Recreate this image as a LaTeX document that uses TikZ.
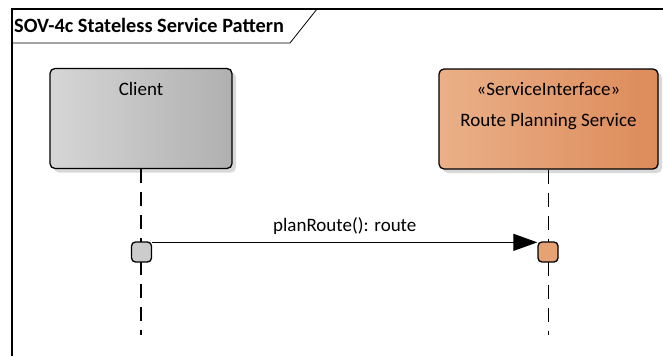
\documentclass[tikz,border=0pt]{standalone}
\usepackage{fontspec}
\setmainfont{Carlito}
\usetikzlibrary{arrows.meta,shadows}

\definecolor{clientL}{RGB}{214,214,214}
\definecolor{clientR}{RGB}{176,176,176}
\definecolor{serviceL}{RGB}{234,176,136}
\definecolor{serviceR}{RGB}{221,139,90}
\definecolor{actgray}{RGB}{204,204,204}
\definecolor{actorange}{RGB}{230,162,114}

\tikzset{
    lifebox/.style={draw, line width=1.3pt, rounded corners=5pt, minimum height=100pt,
        drop shadow={shadow xshift=4pt, shadow yshift=-4pt, fill=black!15, opacity=1}},
    act/.style={draw, line width=1.3pt, rounded corners=4pt, minimum width=20pt, minimum height=20pt, inner sep=0pt},
    lifeline/.style={line width=1.3pt, dash pattern=on 14pt off 9pt},
    msg/.style={line width=1.2pt, -{Triangle[length=24pt,width=17pt]}},
    txt/.style={font=\fontsize{19}{22}\selectfont, inner sep=0pt}
}

\begin{document}
\begin{tikzpicture}[x=1pt,y=-1pt]
        \useasboundingbox (0,0) rectangle (663,356);

        % frame and title tab
        \draw[line width=1.6pt] (12,356) -- (12,9) -- (663,9);
        \draw[line width=0.8pt] (12,43) -- (290,43) -- (317,9);
        \node[txt, font=\fontsize{20.3}{24}\selectfont\bfseries, anchor=west] (title) at (14,25) {SOV-4c Stateless Service Pattern};

        % lifeline heads
        \node[lifebox, minimum width=182pt, left color=clientL, right color=clientR] (client) at (141,118.5) {};
        \node[txt] (clientname) at (141,89) {Client};
        \node[lifebox, minimum width=219pt, left color=serviceL, right color=serviceR] (service) at (548.5,119) {};
        \node[txt] (servicestereo) at (548.5,89) {«ServiceInterface»};
        \node[txt] (servicename) at (548.5,122) {Route Planning Service};

        % lifelines
        \coordinate (clientend) at (141,335);
        \coordinate (serviceend) at (548.5,335);
        \draw[lifeline] (client.south) -- (clientend);
        \draw[lifeline] (service.south) -- (serviceend);

        % activations and message
        \node[act, fill=actgray] (clientact) at (141.5,252) {};
        \node[act, fill=actorange] (serviceact) at (548,252) {};
        \draw[msg] ([yshift=-1pt]clientact.north east) -- ([yshift=-1pt]serviceact.north west)
            node[txt, midway, above=7pt] (msglabel) {planRoute(): route};

\end{tikzpicture}
\end{document}
